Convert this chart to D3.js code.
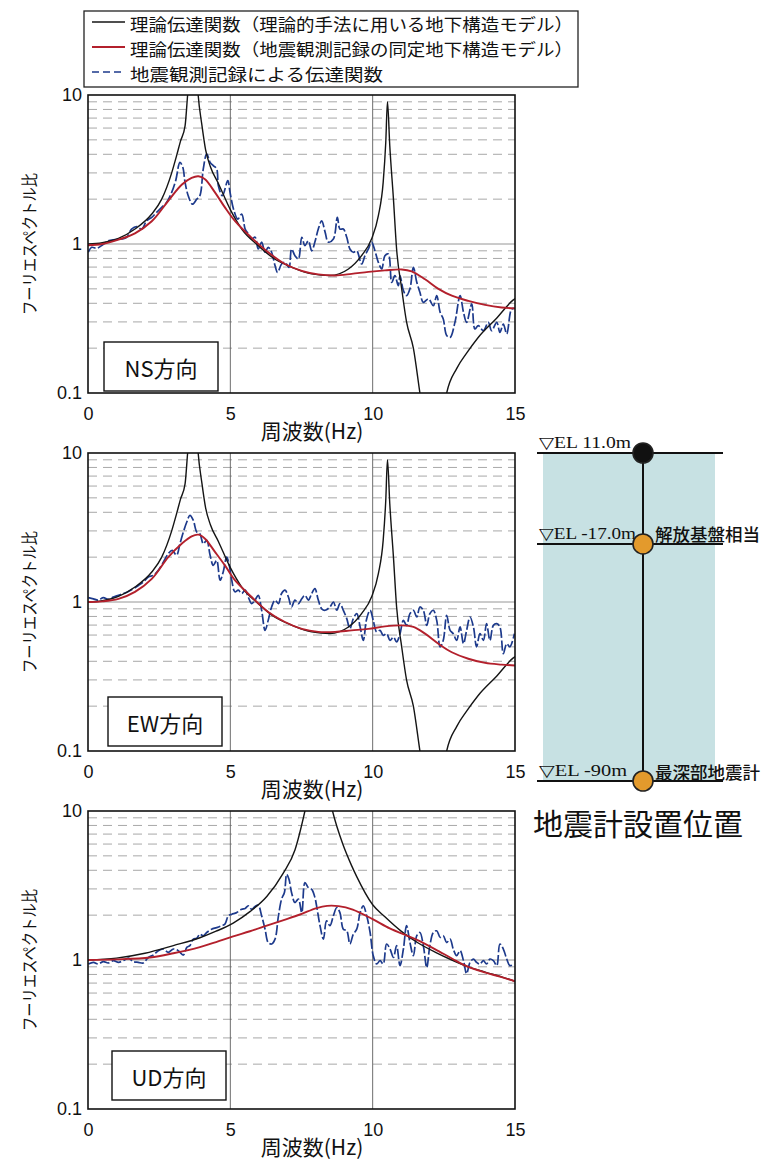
<!DOCTYPE html>
<html>
<head>
<meta charset="utf-8">
<script src="https://cdn.jsdelivr.net/npm/d3@7"></script>
<style>
  body { margin: 0; background: #fff; }
  svg { display: block; }
</style>
</head>
<body>
<svg id="chart" width="777" height="1168"></svg>
<script>
// ---- axis ticks ----
const xTicks = [0, 5, 10, 15];
const yTicks = [0.1, 1, 10];
const yTickLabels = ["0.1", "1", "10"];
const minorGrid = [0.2, 0.3, 0.4, 0.5, 0.6, 0.7, 0.8, 0.9, 2, 3, 4, 5, 6, 7, 8, 9];

// ---- text ----
const legendLabels = [
  "理論伝達関数（理論的手法に用いる地下構造モデル）",
  "理論伝達関数（地震観測記録の同定地下構造モデル）",
  "地震観測記録による伝達関数"
];
const panelNames = ["NS方向", "EW方向", "UD方向"];
const xTitle = "周波数(Hz)";
const yTitle = "フーリエスペクトル比";

// ---- theoretical transfer function, model for theoretical method (horizontal: NS & EW) [Hz, ratio] ----
const theoryH = [[0,1.0],[0.5,1.02],[1.07,1.09],[1.65,1.26],[2.24,1.59],[2.59,2.0],[2.94,3.0],[3.11,3.9],[3.25,4.9],[3.41,6.2],[3.5,10],[3.6,16],[3.7,30],[3.8,16],[3.87,10],[4.0,6.3],[4.13,4.3],[4.3,3.3],[4.58,2.55],[5.0,1.7],[5.4,1.26],[5.98,0.975],[6.57,0.79],[7.15,0.70],[7.86,0.63],[8.5,0.615],[9.15,0.68],[9.61,0.835],[9.96,1.08],[10.2,1.55],[10.37,2.6],[10.46,4.8],[10.52,9.0],[10.6,4.6],[10.73,2.0],[10.84,0.93],[11.02,0.50],[11.19,0.30],[11.43,0.20],[11.66,0.10],[11.9,0.05],[12.1,0.03],[12.35,0.05],[12.6,0.10],[12.96,0.147],[13.3,0.185],[13.7,0.235],[14.37,0.32],[14.93,0.42],[15,0.43]];
// ---- theoretical transfer function, model for theoretical method (vertical: UD) ----
const theoryUD = [[0,1.0],[1.0,1.03],[2.0,1.11],[3.0,1.25],[3.93,1.41],[4.5,1.56],[5.1,1.77],[5.7,2.12],[6.28,2.67],[6.86,3.83],[7.27,5.48],[7.62,10],[8.1,30],[8.59,10],[8.95,6.0],[9.26,4.3],[9.44,3.63],[10.0,2.35],[10.43,1.95],[11.02,1.55],[11.6,1.3],[12.19,1.13],[12.78,1.0],[13.36,0.9],[13.95,0.83],[14.53,0.77],[15,0.72]];

// ---- theoretical transfer function, model identified from records ----
const identNS = [[0,0.98],[0.5,1.0],[1.07,1.07],[1.65,1.18],[2.24,1.42],[2.82,1.95],[3.29,2.5],[3.64,2.78],[3.88,2.85],[4.11,2.72],[4.46,2.22],[4.81,1.76],[5.16,1.43],[5.75,1.1],[6.33,0.88],[6.92,0.734],[7.51,0.66],[8.09,0.625],[8.68,0.615],[9.26,0.63],[9.85,0.65],[10.43,0.665],[11.02,0.675],[11.37,0.655],[11.84,0.58],[12.31,0.50],[12.78,0.45],[13.36,0.415],[13.95,0.39],[14.53,0.375],[15,0.37]];
const identEW = [[0,1.0],[0.5,1.01],[1.07,1.05],[1.65,1.17],[2.24,1.43],[2.82,2.0],[3.29,2.46],[3.64,2.76],[3.88,2.83],[4.11,2.66],[4.46,2.17],[4.81,1.76],[5.16,1.40],[5.75,1.08],[6.33,0.857],[6.92,0.734],[7.51,0.66],[8.09,0.63],[8.68,0.63],[9.26,0.645],[9.85,0.66],[10.43,0.686],[11.02,0.697],[11.43,0.68],[11.84,0.613],[12.31,0.525],[12.78,0.46],[13.36,0.416],[13.95,0.39],[14.53,0.38],[15,0.375]];
const identUD = [[0,1.0],[1.0,1.01],[2.18,1.04],[3.0,1.11],[3.93,1.22],[4.5,1.32],[5.1,1.44],[5.69,1.56],[6.28,1.70],[6.9,1.86],[7.45,2.02],[8.03,2.23],[8.4,2.31],[8.8,2.30],[9.3,2.18],[10.0,1.88],[10.6,1.63],[11.2,1.46],[11.54,1.37],[12.2,1.18],[12.8,1.02],[13.3,0.91],[13.9,0.83],[14.5,0.77],[15,0.72]];

// ---- transfer function from earthquake records ----
const obsNS = [[0.01,0.88],[0.13,0.95],[0.30,0.935],[0.48,0.975],[0.71,1.05],[0.95,1.07],[1.18,1.08],[1.36,1.11],[1.53,1.26],[1.71,1.31],[1.89,1.26],[2.06,1.43],[2.24,1.51],[2.41,1.63],[2.59,1.76],[2.76,1.90],[2.94,2.22],[3.08,2.66],[3.23,3.53],[3.33,3.27],[3.41,2.59],[3.52,2.11],[3.67,1.85],[3.82,2.00],[3.93,2.11],[4.05,3.19],[4.17,4.02],[4.29,3.53],[4.40,3.36],[4.52,3.19],[4.58,2.46],[4.72,2.11],[4.91,2.66],[4.99,2.22],[5.11,1.72],[5.26,1.47],[5.40,1.59],[5.52,1.26],[5.63,1.17],[5.75,1.08],[5.87,1.11],[5.98,0.926],[6.10,1.03],[6.22,0.88],[6.33,0.95],[6.45,0.88],[6.57,0.716],[6.66,0.645],[6.80,0.734],[6.92,0.753],[7.06,0.697],[7.15,0.926],[7.27,0.835],[7.39,0.793],[7.51,1.11],[7.62,0.975],[7.74,1.05],[7.86,0.90],[7.97,1.03],[8.09,1.26],[8.21,1.43],[8.33,1.20],[8.44,1.03],[8.62,1.08],[8.76,1.51],[8.85,1.26],[8.97,1.26],[9.09,1.11],[9.20,0.926],[9.32,0.88],[9.44,0.90],[9.61,0.734],[9.73,0.835],[9.85,0.926],[9.96,1.03],[10.08,0.90],[10.20,0.753],[10.32,0.68],[10.43,0.835],[10.55,0.857],[10.67,0.553],[10.78,0.613],[10.90,0.525],[10.96,0.613],[11.08,0.486],[11.19,0.45],[11.31,0.50],[11.43,0.697],[11.55,0.553],[11.66,0.474],[11.78,0.406],[11.96,0.428],[12.13,0.386],[12.25,0.45],[12.37,0.348],[12.48,0.314],[12.60,0.243],[12.72,0.236],[12.89,0.298],[13.07,0.45],[13.19,0.348],[13.30,0.298],[13.48,0.396],[13.59,0.269],[13.71,0.283],[13.89,0.262],[14.06,0.298],[14.18,0.262],[14.36,0.298],[14.47,0.255],[14.59,0.29],[14.71,0.249],[14.88,0.366],[14.98,0.37]];
const obsEW = [[0.01,1.07],[0.19,1.05],[0.36,1.03],[0.54,1.07],[0.71,1.04],[0.89,1.08],[1.07,1.11],[1.30,1.15],[1.53,1.21],[1.77,1.29],[1.94,1.36],[2.12,1.47],[2.30,1.51],[2.47,1.63],[2.65,1.86],[2.82,2.11],[2.96,2.22],[3.11,2.06],[3.23,2.46],[3.35,2.95],[3.47,3.44],[3.58,3.81],[3.70,3.53],[3.82,2.95],[3.93,2.87],[4.05,2.46],[4.17,2.59],[4.29,2.06],[4.40,1.76],[4.52,1.90],[4.64,1.40],[4.75,1.59],[4.87,2.00],[4.95,1.81],[5.05,1.40],[5.16,1.17],[5.28,1.20],[5.40,1.14],[5.52,1.20],[5.63,1.08],[5.75,0.975],[5.87,1.03],[5.98,1.11],[6.10,0.88],[6.22,0.645],[6.33,0.753],[6.45,0.926],[6.57,1.03],[6.69,0.975],[6.80,1.14],[6.92,1.20],[7.04,1.08],[7.15,0.926],[7.27,1.03],[7.39,0.975],[7.51,1.05],[7.62,1.11],[7.74,1.03],[7.86,1.14],[7.97,1.23],[8.09,1.03],[8.21,0.90],[8.33,0.88],[8.50,0.926],[8.62,1.0],[8.74,0.88],[8.85,0.975],[8.97,0.88],[9.09,0.773],[9.20,0.662],[9.32,0.773],[9.44,0.835],[9.56,0.68],[9.67,0.553],[9.79,0.773],[9.91,0.88],[10.02,0.753],[10.14,0.629],[10.26,0.645],[10.37,0.597],[10.49,0.613],[10.61,0.553],[10.73,0.582],[10.84,0.54],[10.96,0.613],[11.08,0.753],[11.19,0.697],[11.31,0.835],[11.43,0.88],[11.55,0.793],[11.66,0.926],[11.78,0.88],[11.90,0.697],[12.01,0.835],[12.13,0.88],[12.25,0.753],[12.37,0.50],[12.48,0.553],[12.60,0.814],[12.72,0.645],[12.83,0.613],[12.95,0.553],[13.07,0.68],[13.19,0.525],[13.30,0.645],[13.42,0.793],[13.54,0.68],[13.65,0.50],[13.77,0.613],[13.89,0.553],[14.00,0.716],[14.12,0.553],[14.24,0.697],[14.36,0.716],[14.47,0.68],[14.59,0.45],[14.71,0.525],[14.82,0.50],[14.98,0.613]];
const obsUD = [[0.01,0.94],[0.19,0.965],[0.36,0.94],[0.54,0.975],[0.71,0.955],[0.89,0.99],[1.07,0.965],[1.24,0.99],[1.42,1.03],[1.59,0.975],[1.77,0.965],[1.94,0.955],[2.12,1.04],[2.30,1.08],[2.47,1.155],[2.65,1.185],[2.82,1.125],[3.00,1.185],[3.17,1.155],[3.35,1.08],[3.47,1.215],[3.58,1.25],[3.70,1.38],[3.82,1.40],[3.93,1.49],[4.05,1.455],[4.17,1.53],[4.34,1.61],[4.52,1.65],[4.70,1.70],[4.81,1.74],[4.93,1.98],[5.05,2.03],[5.22,2.08],[5.40,2.19],[5.52,2.22],[5.63,2.31],[5.75,2.19],[5.87,2.29],[5.98,2.33],[6.10,1.98],[6.22,1.61],[6.33,1.31],[6.45,1.28],[6.57,1.38],[6.69,1.98],[6.80,2.56],[6.90,2.84],[6.98,3.76],[7.06,3.48],[7.15,2.84],[7.27,2.43],[7.39,2.56],[7.51,2.08],[7.62,3.31],[7.74,3.06],[7.86,2.98],[7.97,2.63],[8.03,2.31],[8.15,1.70],[8.27,1.38],[8.38,1.83],[8.50,1.70],[8.62,1.98],[8.74,2.25],[8.85,2.08],[8.97,1.61],[9.09,1.57],[9.20,1.28],[9.32,1.49],[9.44,1.61],[9.56,2.08],[9.67,2.31],[9.79,1.98],[9.91,1.53],[10.02,1.07],[10.14,0.94],[10.26,0.99],[10.37,0.94],[10.49,1.28],[10.61,1.185],[10.73,1.04],[10.84,1.25],[10.96,0.917],[11.08,1.185],[11.19,1.70],[11.31,1.31],[11.43,1.07],[11.55,1.455],[11.66,1.53],[11.78,1.25],[11.90,0.89],[12.01,1.25],[12.13,1.53],[12.25,1.57],[12.37,1.42],[12.48,1.455],[12.60,1.31],[12.72,1.38],[12.83,1.185],[12.95,1.07],[13.07,1.155],[13.19,0.99],[13.30,0.81],[13.42,0.965],[13.54,1.015],[13.65,0.965],[13.77,0.94],[13.89,0.99],[14.00,0.94],[14.12,1.015],[14.24,0.99],[14.36,0.917],[14.47,1.28],[14.59,1.185],[14.71,1.015],[14.82,0.917],[14.98,0.94]];

// ---- seismometer installation diagram ----
const stationElev = [11.0, -17.0, -90];
const stationLabels = ["▽EL 11.0m", "▽EL -17.0m", "▽EL -90m"];
const stationNotes = ["", "解放基盤相当", "最深部地震計"];
const stationFill = ["#111111", "#e39a2c", "#e39a2c"];
const diagramTitle = "地震計設置位置";

// ---- build ----
const svg = d3.select("#chart");
const sansJP = "'Noto Sans CJK JP', 'Noto Sans', sans-serif";
const sansNum = "'Liberation Sans', Arial, sans-serif";
const colBlack = "#151515", colRed = "#b3202c", colBlue = "#1d3a8c";

const plotLeft = 88, plotWidth = 427, plotHeight = 298;
const panelTops = [95, 453, 811];
const x = d3.scaleLinear().domain([0, 15]).range([plotLeft, plotLeft + plotWidth]);

const panels = [
  { name: panelNames[0], theory: theoryH, ident: identNS, obs: obsNS, box: [104, 342] },
  { name: panelNames[1], theory: theoryH, ident: identEW, obs: obsEW, box: [108, 697] },
  { name: panelNames[2], theory: theoryUD, ident: identUD, obs: obsUD, box: [112, 1051] }
];

panels.forEach((p, i) => {
  const top = panelTops[i];
  const y = d3.scaleLog().domain([0.1, 10]).range([top + plotHeight, top]);
  const g = svg.append("g");
  const clipId = "clip" + i;
  g.append("clipPath").attr("id", clipId)
    .append("rect").attr("x", plotLeft).attr("y", top).attr("width", plotWidth).attr("height", plotHeight);

  // minor horizontal grid (dashed)
  g.append("g").selectAll("line").data(minorGrid).join("line")
    .attr("x1", x(0)).attr("x2", x(15))
    .attr("y1", d => y(d)).attr("y2", d => y(d))
    .attr("stroke", "#a8a8a8").attr("stroke-width", 1)
    .attr("stroke-dasharray", "9,6");
  // major grid
  g.append("line").attr("x1", x(0)).attr("x2", x(15)).attr("y1", y(1)).attr("y2", y(1))
    .attr("stroke", "#8a8a8a").attr("stroke-width", 0.9);
  g.append("g").selectAll("line").data([5, 10]).join("line")
    .attr("x1", d => x(d)).attr("x2", d => x(d)).attr("y1", top).attr("y2", top + plotHeight)
    .attr("stroke", "#5e5e5e").attr("stroke-width", 0.9);

  const sharp = d3.line().x(d => x(d[0])).y(d => y(Math.max(d[1], 0.01))).curve(d3.curveMonotoneX);
  const smooth = d3.line().x(d => x(d[0])).y(d => y(d[1])).curve(d3.curveCatmullRom.alpha(0.5));
  const series = g.append("g").attr("clip-path", `url(#${clipId})`);
  series.append("path").datum(p.obs).attr("d", smooth)
    .attr("fill", "none").attr("stroke", colBlue).attr("stroke-width", 1.7)
    .attr("stroke-dasharray", "10,2.5").attr("stroke-linejoin", "round");
  series.append("path").datum(p.theory).attr("d", sharp)
    .attr("fill", "none").attr("stroke", colBlack).attr("stroke-width", 1.4);
  series.append("path").datum(p.ident).attr("d", smooth)
    .attr("fill", "none").attr("stroke", colRed).attr("stroke-width", 1.9);

  // frame
  g.append("rect").attr("x", plotLeft).attr("y", top).attr("width", plotWidth).attr("height", plotHeight)
    .attr("fill", "none").attr("stroke", "#111").attr("stroke-width", 1.6);

  // axes
  const yAxis = d3.axisLeft(y).tickValues(yTicks).tickFormat((d, k) => yTickLabels[k]).tickSize(0).tickPadding(6);
  const ya = g.append("g").attr("transform", `translate(${plotLeft},0)`).call(yAxis);
  ya.select(".domain").remove();
  ya.selectAll("text").attr("font-family", sansNum).attr("font-size", 18).attr("fill", "#111");

  const xAxis = d3.axisBottom(x).tickValues(xTicks).tickFormat(d3.format("d")).tickSize(0).tickPadding(14);
  const xa = g.append("g").attr("transform", `translate(0,${top + plotHeight})`).call(xAxis);
  xa.select(".domain").remove();
  xa.selectAll("text").attr("font-family", sansNum).attr("font-size", 18).attr("fill", "#111");

  // axis titles
  g.append("text").attr("x", 312).attr("y", top + plotHeight + 46)
    .attr("text-anchor", "middle").attr("font-family", sansJP).attr("font-size", 21).attr("fill", "#111")
    .text(xTitle);
  g.append("text")
    .attr("transform", `translate(29,${top + plotHeight / 2}) rotate(-90)`)
    .attr("text-anchor", "middle").attr("dominant-baseline", "central")
    .attr("font-family", sansJP).attr("font-size", 16.5).attr("fill", "#111")
    .attr("textLength", 142).attr("lengthAdjust", "spacingAndGlyphs")
    .text(yTitle);

  // direction label box
  const [bx, by] = p.box;
  g.append("rect").attr("x", bx).attr("y", by).attr("width", 114).attr("height", 49)
    .attr("fill", "#fff").attr("stroke", "#111").attr("stroke-width", 1.4);
  g.append("text").attr("x", bx + 57).attr("y", by + 25)
    .attr("text-anchor", "middle").attr("dominant-baseline", "central")
    .attr("font-family", sansJP).attr("font-size", 22).attr("fill", "#111")
    .text(p.name);
});

// ---- legend ----
const lg = svg.append("g");
lg.append("rect").attr("x", 84).attr("y", 11).attr("width", 494).attr("height", 76)
  .attr("fill", "#fff").attr("stroke", "#222").attr("stroke-width", 1.3);
const legendStyles = [
  { stroke: colBlack, dash: null, width: 1.5, len: 443 },
  { stroke: colRed, dash: null, width: 1.8, len: 443 },
  { stroke: colBlue, dash: "7,4", width: 1.7, len: 253 }
];
const legendY = d3.scalePoint().domain(d3.range(legendLabels.length)).range([22, 72]);
legendLabels.forEach((t, k) => {
  const ly = legendY(k);
  lg.append("line").attr("x1", 92).attr("x2", 125).attr("y1", ly).attr("y2", ly)
    .attr("stroke", legendStyles[k].stroke).attr("stroke-width", legendStyles[k].width)
    .attr("stroke-dasharray", legendStyles[k].dash);
  lg.append("text").attr("x", 130).attr("y", ly + 1).attr("dominant-baseline", "central")
    .attr("font-family", sansJP).attr("font-size", 17).attr("fill", "#111")
    .attr("textLength", legendStyles[k].len).attr("lengthAdjust", "spacingAndGlyphs")
    .text(t);
});

// ---- installation diagram ----
const dg = svg.append("g");
const depth = d3.scaleLinear().domain([stationElev[0], stationElev[2]]).range([453, 781]);
const colX = 643;
const labelLen = [92, 97, 88];
dg.append("rect").attr("x", 543).attr("y", depth(stationElev[0])).attr("width", 172)
  .attr("height", depth(stationElev[2]) - depth(stationElev[0]))
  .attr("fill", "#c7e1e3");
dg.append("line").attr("x1", colX).attr("x2", colX)
  .attr("y1", depth(stationElev[0])).attr("y2", depth(stationElev[2]))
  .attr("stroke", "#111").attr("stroke-width", 2);
stationElev.forEach((e, k) => {
  const yy = depth(e);
  dg.append("line").attr("x1", 537).attr("x2", 723).attr("y1", yy).attr("y2", yy)
    .attr("stroke", "#111").attr("stroke-width", 2);
  dg.append("text").attr("x", 539).attr("y", yy - 5)
    .attr("font-family", "'Liberation Serif', 'DejaVu Serif', serif").attr("font-size", 16).attr("fill", "#111")
    .attr("textLength", labelLen[k]).attr("lengthAdjust", "spacingAndGlyphs")
    .text(stationLabels[k]);
  if (stationNotes[k]) {
    dg.append("text").attr("x", 655).attr("y", yy - 10).attr("dominant-baseline", "central")
      .attr("font-family", sansJP).attr("font-size", 17.5).attr("font-weight", 500).attr("fill", "#111")
      .text(stationNotes[k]);
  }
  dg.append("circle").attr("cx", colX).attr("cy", yy).attr("r", 10)
    .attr("fill", stationFill[k]).attr("stroke", "#222").attr("stroke-width", 1.6);
});
dg.append("text").attr("x", 533).attr("y", 822).attr("dominant-baseline", "central")
  .attr("font-family", sansJP).attr("font-size", 30).attr("font-weight", 400).attr("fill", "#111")
  .text(diagramTitle);
</script>
</body>
</html>
